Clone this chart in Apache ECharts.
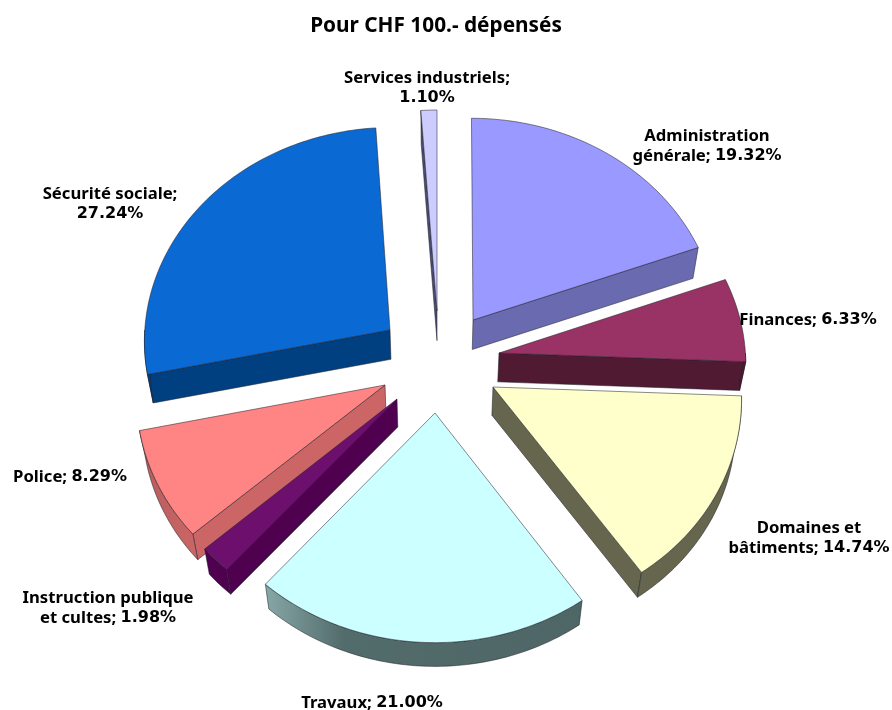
<!DOCTYPE html>
<html>
<head>
<meta charset="utf-8">
<title>Pour CHF 100.- dépensés</title>
<script src="https://cdn.jsdelivr.net/npm/echarts@6/dist/echarts.min.js"></script>
<style>
  html, body { margin: 0; padding: 0; background: #fff; }
  #chart { width: 892px; height: 710px; }
</style>
</head>
<body>
<div id="chart"></div>
<script>
// slices run clockwise from 12 o'clock
const categories = ['Administration\ngénérale', 'Finances', 'Domaines et\nbâtiments', 'Travaux', 'Instruction publique\net cultes', 'Police', 'Sécurité sociale', 'Services industriels']
const shares = [19.32, 6.33, 14.74, 21.0, 1.98, 8.29, 27.24, 1.1]
const separators = ['; ', '; ', '; ', '; ', '; ', '; ', ';\n', ';\n']

// drawing only: slice tip on screen, label centre, paint order
const tips = [[473, 320], [499, 353], [493, 387], [435, 413], [397, 399], [385, 385], [390, 330], [437, 311]]
const labelPos = [[707, 146], [808, 320], [809, 538], [372, 703], [108, 608], [70, 477], [110, 204], [427, 88]]
const paintOrder = [2, 3, 5, 7, 4, 6, 1, 0]

const tops = ['#9999ff', '#993366', '#ffffcc', '#ccffff', '#6d0f6d', '#ff8484', '#0a69d2', '#ccccff']
const sides = ['#6a6ab0', '#501a33', '#66664f', '#4f6666', '#4f004f', '#cc6666', '#004080', '#4c4c78']

const FONT = '"Noto Sans", sans-serif'
const CX = 437, CY = 345, SCALE_X = 246, SCALE_Y = 213, PERSP = 0.045

// pie plane -> screen, nearer parts come out slightly bigger
function project(u, v, down) {
  const w = 1 - PERSP * v
  const x = CX + SCALE_X * u / w
  const y = CY + SCALE_Y * v / w
  if (!down) return [x, y]
  return [x - (x - CX) * 0.02, y + 29 - 4 * v]
}

function tipToPlane(tip) {
  const d = tip[1] - CY
  const v = d / (SCALE_Y + PERSP * d)
  return [(tip[0] - CX) * (1 - PERSP * v) / SCALE_X, v]
}

function arcPoints(tip, a0, a1, down) {
  const pts = []
  const steps = Math.max(2, Math.ceil((a1 - a0) / 0.02))
  for (let i = 0; i <= steps; i++) {
    const a = a0 + (a1 - a0) * i / steps
    pts.push(project(tip[0] + Math.sin(a), tip[1] - Math.cos(a), down))
  }
  return pts
}

function wallFill(idx) {
  if (idx === 3) {
    return new echarts.graphic.LinearGradient(0, 0, 1, 0, [
      { offset: 0, color: '#86a8a6' },
      { offset: 0.25, color: '#526b6b' },
      { offset: 1, color: '#4f6666' }
    ])
  }
  if (idx === 5) {
    return new echarts.graphic.LinearGradient(0, 0, 1, 0, [
      { offset: 0, color: '#b85c5c' },
      { offset: 1, color: '#cc6666' }
    ])
  }
  return sides[idx]
}

const total = shares.reduce((a, b) => a + b, 0)
const EDGE = 'rgba(30,30,40,0.75)'

function renderSlice(params, api) {
  const idx = api.value(0)
  let before = 0
  for (let i = 0; i < idx; i++) before += shares[i]
  const a0 = before / total * Math.PI * 2
  const a1 = (before + api.value(1)) / total * Math.PI * 2
  const tip = tipToPlane(tips[idx])
  const z = paintOrder.indexOf(idx) * 5
  const children = []
  const face = (points, fill, lift) => children.push({
    type: 'polygon',
    z2: z + lift,
    shape: { points },
    style: { fill, stroke: EDGE, lineWidth: 0.7 }
  })

  const rim = a => project(tip[0] + Math.sin(a), tip[1] - Math.cos(a), false)
  const rimDown = a => project(tip[0] + Math.sin(a), tip[1] - Math.cos(a), true)
  const tipTop = project(tip[0], tip[1], false)
  const tipDown = project(tip[0], tip[1], true)

  // cut faces, only the ones turned to the viewer
  if (Math.sin(a0) < 0) face([tipTop, rim(a0), rimDown(a0), tipDown], sides[idx], 0)
  if (Math.sin(a1) > 0) face([tipTop, rim(a1), rimDown(a1), tipDown], sides[idx], 0)

  // outer wall on the front half
  const w0 = Math.max(a0, Math.PI / 2)
  const w1 = Math.min(a1, Math.PI * 1.5)
  if (w1 > w0) {
    const upper = arcPoints(tip, w0, w1, false)
    const lower = arcPoints(tip, w0, w1, true).reverse()
    face(upper.concat(lower), wallFill(idx), 1)
  }

  face([tipTop].concat(arcPoints(tip, a0, a1, false)), tops[idx], 2)

  // numbers in the original font run wider than Noto, DejaVu fits them better
  const nameLines = (categories[idx] + separators[idx]).split('\n')
  const pct = api.value(1).toFixed(2) + '%'
  const lines = nameLines.map(l => '{t|' + l + '}')
  lines[lines.length - 1] += '{n|' + pct + '}'
  children.push({
    type: 'text',
    z2: 100,
    x: labelPos[idx][0],
    y: labelPos[idx][1],
    style: {
      text: lines.join('\n'),
      align: 'center',
      verticalAlign: 'middle',
      rich: {
        t: { font: 'bold 16.7px ' + FONT, fill: '#000', lineHeight: 20.5 },
        n: { font: 'bold 16px "DejaVu Sans", sans-serif', fill: '#000', lineHeight: 20.5 }
      }
    }
  })
  return { type: 'group', children }
}

const chart = echarts.init(document.getElementById('chart'), null, { renderer: 'canvas' })
chart.setOption({
  animation: false,
  backgroundColor: '#fff',
  title: {
    text: 'Pour CHF 100.- dépensés',
    left: 431,
    top: 11,
    textAlign: 'center',
    textStyle: { color: '#000', fontFamily: FONT, fontWeight: 'bold', fontSize: 20.8 }
  },
  series: [{
    type: 'custom',
    coordinateSystem: 'none',
    silent: true,
    renderItem: renderSlice,
    data: shares.map((v, i) => [i, v])
  }]
})
</script>
</body>
</html>
